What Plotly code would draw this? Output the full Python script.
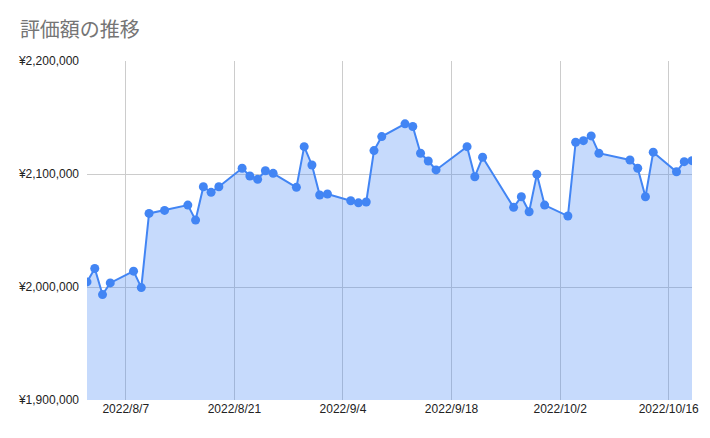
import plotly.graph_objects as go

dates = ["2022-08-02","2022-08-03","2022-08-04","2022-08-05","2022-08-08","2022-08-09","2022-08-10",
         "2022-08-12","2022-08-15","2022-08-16","2022-08-17","2022-08-18","2022-08-19","2022-08-22",
         "2022-08-23","2022-08-24","2022-08-25","2022-08-26","2022-08-29","2022-08-30","2022-08-31",
         "2022-09-01","2022-09-02","2022-09-05","2022-09-06","2022-09-07","2022-09-08","2022-09-09",
         "2022-09-12","2022-09-13","2022-09-14","2022-09-15","2022-09-16","2022-09-20","2022-09-21",
         "2022-09-22","2022-09-26","2022-09-27","2022-09-28","2022-09-29","2022-09-30","2022-10-03",
         "2022-10-04","2022-10-05","2022-10-06","2022-10-07","2022-10-11","2022-10-12","2022-10-13",
         "2022-10-14","2022-10-17","2022-10-18","2022-10-19"]

values = [2004500, 2016400, 1993300, 2003600, 2014000, 1999500, 2065100,
          2067800, 2072500, 2059200, 2088700, 2083800, 2088700, 2105100,
          2098200, 2095300, 2102900, 2100600, 2088200, 2124200, 2108000,
          2081400, 2082300, 2076300, 2074500, 2075200, 2120700, 2133100,
          2144400, 2142000, 2118400, 2111500, 2103600, 2124200, 2097600,
          2114800, 2070500, 2079900, 2066600, 2099700, 2072500, 2062800,
          2128100, 2129500, 2133700, 2118400, 2112400, 2105100, 2079900,
          2119300, 2102000, 2110900, 2111800]

x_tickvals = ["2022-08-07", "2022-08-21", "2022-09-04", "2022-09-18", "2022-10-02", "2022-10-16"]
x_ticktext = ["2022/8/7", "2022/8/21", "2022/9/4", "2022/9/18", "2022/10/2", "2022/10/16"]
y_tickvals = [1900000, 2000000, 2100000, 2200000]
y_ticktext = ["¥1,900,000", "¥2,000,000", "¥2,100,000", "¥2,200,000"]

fig = go.Figure()
fig.add_trace(go.Scatter(
    x=dates, y=values,
    mode="lines+markers",
    fill="tozeroy",
    fillcolor="rgba(66,133,244,0.3)",
    line=dict(color="#4285f4", width=2),
    marker=dict(color="#4285f4", size=9),
    hoverinfo="skip",
))

fig.update_layout(
    width=710, height=438,
    margin=dict(l=87, r=18, t=61, b=38),
    paper_bgcolor="white", plot_bgcolor="white",
    showlegend=False,
    font=dict(family="Liberation Sans, Arial, sans-serif", size=12, color="#222222"),
    title=dict(
        text="評価額の推移",
        font=dict(family="Noto Sans CJK JP, sans-serif", size=20, color="#757575"),
        x=0.028, xref="container", xanchor="left",
        y=0.931, yref="container", yanchor="middle",
    ),
    xaxis=dict(
        type="date",
        range=["2022-08-02", "2022-10-19"],
        tickvals=x_tickvals, ticktext=x_ticktext,
        showgrid=True, gridcolor="#cccccc", gridwidth=1,
        showline=False, zeroline=False, ticks="",
        tickfont=dict(size=12, color="#222222"),
    ),
    yaxis=dict(
        range=[1900000, 2200000],
        tickvals=y_tickvals, ticktext=y_ticktext,
        showgrid=True, gridcolor="#cccccc", gridwidth=1,
        showline=False, zeroline=False, ticks="",
        ticklabelstandoff=7,
        tickfont=dict(size=12, color="#222222"),
    ),
)

fig.write_html("out.html", config={"displayModeBar": False},
               post_script="document.body.style.margin='0';document.body.style.padding='0';")
